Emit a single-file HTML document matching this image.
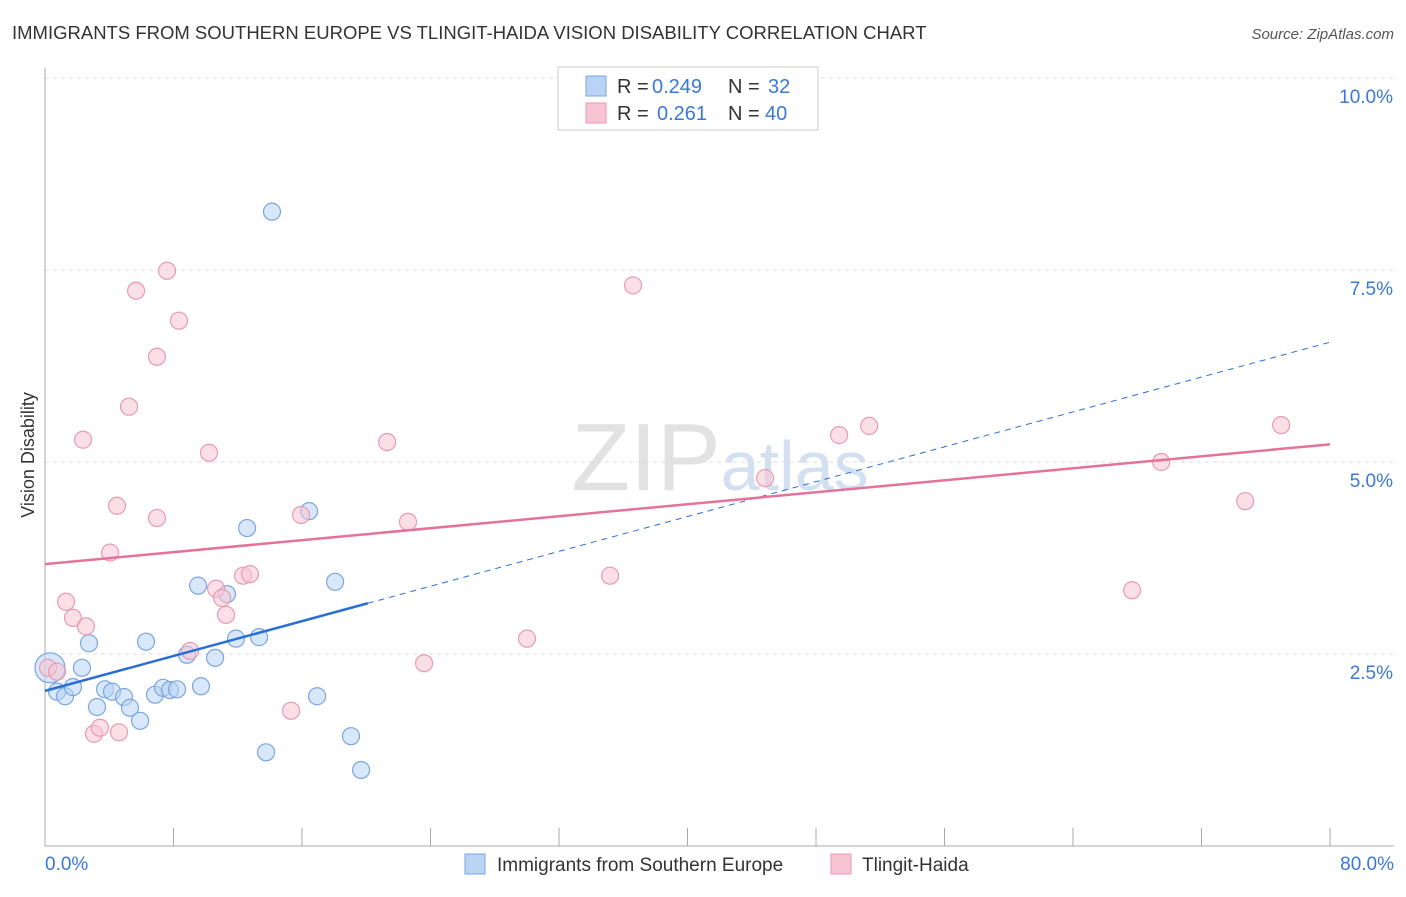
<!DOCTYPE html>
<html><head><meta charset="utf-8"><style>
body{margin:0;background:#fff;font-family:"Liberation Sans",sans-serif;}
svg text{font-family:"Liberation Sans",sans-serif;}
</style></head><body>
<svg id="chart" width="1406" height="892">
<text x="12" y="39" font-size="18.5" fill="#333">IMMIGRANTS FROM SOUTHERN EUROPE VS TLINGIT-HAIDA VISION DISABILITY CORRELATION CHART</text>
<text x="1394" y="39" font-size="15" fill="#555" font-style="italic" text-anchor="end">Source: ZipAtlas.com</text>
<text x="34" y="455" font-size="18" fill="#333" transform="rotate(-90 34 455)" text-anchor="middle">Vision Disability</text>
<text x="720" y="490" font-size="96" fill="#e2e2e2" text-anchor="middle" font-family="Liberation Serif">ZIP<tspan font-size="70" fill="#d3e0f2" font-family="Liberation Sans">atlas</tspan></text>
<g id="grid"></g><g id="marks"></g>
<g>
<rect x="558" y="67" width="260" height="63" fill="#fff" stroke="#ccc"/>
<rect x="586" y="76" width="20" height="20" fill="#b8d3f4" stroke="#7aa6e0"/>
<rect x="586" y="103" width="20" height="20" fill="#f8c4d3" stroke="#e99ab2"/>
<text y="93" font-size="20" fill="#333"><tspan x="617">R =</tspan><tspan x="652" fill="#3a78d8">0.249</tspan><tspan x="728">N =</tspan><tspan x="768" fill="#3a78d8">32</tspan></text>
<text y="120" font-size="20" fill="#333"><tspan x="617">R =</tspan><tspan x="657" fill="#3a78d8">0.261</tspan><tspan x="728">N =</tspan><tspan x="765" fill="#3a78d8">40</tspan></text>
</g>
<g>
<rect x="465" y="854" width="20" height="20" fill="#b8d3f4" stroke="#7aa6e0"/>
<text x="497" y="871" font-size="19" fill="#333">Immigrants from Southern Europe</text>
<rect x="831" y="854" width="20" height="20" fill="#f8c4d3" stroke="#e99ab2"/>
<text x="862" y="871" font-size="19" fill="#333">Tlingit-Haida</text>
</g>
</svg>
<script>
const blueX=[0.31,0.75,1.25,1.74,2.30,2.74,3.24,3.74,4.17,4.92,5.29,5.92,6.29,6.85,7.35,7.78,8.22,8.84,9.53,9.71,10.59,11.33,11.89,12.58,13.33,13.76,14.13,16.44,16.94,18.06,19.05,19.68];
const blueY=[2.32,2.01,1.95,2.07,2.32,2.64,1.81,2.04,2.01,1.94,1.80,1.63,2.66,1.97,2.06,2.03,2.04,2.49,3.39,2.08,2.45,3.28,2.70,4.14,2.72,1.22,8.26,4.36,1.95,3.44,1.43,0.99];
const pinkX=[0.19,0.75,1.31,1.74,2.37,2.55,3.05,3.42,4.05,4.48,4.61,5.23,5.67,6.97,6.97,7.60,8.34,9.03,10.21,10.65,11.02,11.27,12.33,12.76,15.32,15.94,21.30,22.60,23.60,30.01,35.18,36.61,44.83,49.44,51.31,67.68,69.49,74.72,76.96];
const pinkY=[2.32,2.27,3.18,2.97,5.29,2.86,1.46,1.54,3.82,4.43,1.48,5.72,7.23,4.27,6.37,7.49,6.84,2.54,5.12,3.35,3.23,3.01,3.52,3.54,1.76,4.31,5.26,4.22,2.38,2.70,3.52,7.30,4.79,5.35,5.47,3.33,5.00,4.49,5.48];
const blueTrend=[2.02,6.56], blueSolidEnd=20.1;
const pinkTrend=[3.67,5.23];
const yTicks=[2.5,5.0,7.5,10.0];
const xTickCount=10;
const X=v=>45+v*(1285/80), Y=v=>846-v*76.8;
const NS="http://www.w3.org/2000/svg";
const grid=document.getElementById('grid'), marks=document.getElementById('marks');
function mk(tag,attrs,parent){const e=document.createElementNS(NS,tag);for(const k in attrs)e.setAttribute(k,attrs[k]);parent.appendChild(e);return e;}
for(const t of yTicks){
 const l=mk('line',{x1:45,x2:1394,y1:Y(t),y2:Y(t),stroke:'#ddd','stroke-dasharray':'4,4'},grid);
 
 
 const tx=mk('text',{x:1393,y:Y(t)+25,'font-size':19,fill:'#3a78d8','text-anchor':'end'},grid);tx.textContent=t.toFixed(1)+'%';
 
 
}
mk('line',{x1:45,x2:45,y1:68,y2:846,stroke:'#aaa'},grid);
mk('line',{x1:45,x2:1394,y1:846,y2:846,stroke:'#aaa'},grid);
for(let i=0;i<=xTickCount;i++){const x=X(i*8);mk('line',{x1:x,x2:x,y1:828,y2:846,stroke:'#aaa'},grid);}
let t0=mk('text',{x:45,y:870,'font-size':19,fill:'#3a78d8'},grid);t0.textContent='0.0%';


let t1=mk('text',{x:1394,y:870,'font-size':19,fill:'#3a78d8','text-anchor':'end'},grid);t1.textContent='80.0%';


function pts(xs,ys,fill,stroke,name){xs.forEach((x,i)=>{const c=mk('circle',{cx:X(x),cy:Y(ys[i]),r:(name=='blue-point'&&i==0)?15:8.5,fill:fill,'fill-opacity':0.55,stroke:stroke,'stroke-width':1.2},marks);
 
 });}
pts(blueX,blueY,'#b8d3f4','#7aa6e0','blue-point');
pts(pinkX,pinkY,'#f8c4d3','#e99ab2','pink-point');
const bAt=v=>blueTrend[0]+(blueTrend[1]-blueTrend[0])*v/80;
const bs=mk('line',{x1:X(0),y1:Y(bAt(0)),x2:X(blueSolidEnd),y2:Y(bAt(blueSolidEnd)),stroke:'#2a6fd6','stroke-width':2.5},marks);


const bd=mk('line',{x1:X(blueSolidEnd),y1:Y(bAt(blueSolidEnd)),x2:X(80),y2:Y(bAt(80)),stroke:'#2a6fd6','stroke-width':1,'stroke-dasharray':'6,5'},marks);


const pl=mk('line',{x1:X(0),y1:Y(pinkTrend[0]),x2:X(80),y2:Y(pinkTrend[1]),stroke:'#e4729a','stroke-width':2.5},marks);


</script>
</body></html>
